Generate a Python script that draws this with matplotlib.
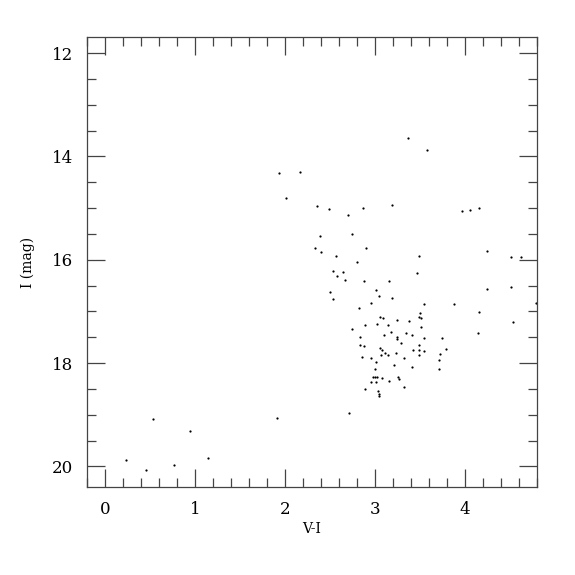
"""
Colour-magnitude diagram: I vs V-I.
"""

import matplotlib
matplotlib.use('Agg')
import matplotlib.pyplot as plt
from matplotlib.ticker import MultipleLocator

# V-I colour and I magnitude
vi = [3.37, 3.58, 1.93, 2.17, 2.01, 2.36, 2.49, 2.70, 2.87, 3.19,
      3.97, 4.06, 4.16, 2.39, 2.74, 2.33, 2.40, 2.90, 2.57, 3.49,
      4.25, 4.51, 4.62, 2.80, 2.53, 2.64, 2.58, 2.67, 3.47, 2.88,
      3.16, 4.24, 4.51, 3.01, 2.50, 3.04, 2.53, 3.19, 2.96, 3.54,
      3.88, 4.79, 2.82, 3.50, 4.16, 3.06, 3.09, 3.49, 3.51, 3.24,
      3.38, 4.53, 2.89, 3.02, 3.14, 3.51, 2.74, 3.18, 3.35, 4.14,
      3.10, 3.41, 3.24, 2.83, 3.24, 3.54, 3.75, 3.29, 3.49, 2.83,
      2.88, 3.06, 3.08, 3.79, 3.42, 3.49, 3.54, 3.23, 3.11, 3.14,
      3.07, 3.49, 3.72, 2.86, 2.96, 3.32, 3.71, 3.01, 3.21, 3.41,
      3.71, 3.00, 2.98, 3.00, 3.02, 3.08, 3.26, 3.27, 2.96, 3.01,
      3.16, 3.32, 2.89, 3.03, 3.04, 3.05, 2.71, 0.53, 0.94, 1.91,
      0.23, 0.46, 0.77, 1.14]
imag = [13.65, 13.87, 14.32, 14.30, 14.81, 14.97, 15.02, 15.14, 15.00, 14.94,
        15.05, 15.04, 14.99, 15.55, 15.50, 15.77, 15.86, 15.77, 15.92, 15.92,
        15.84, 15.94, 15.94, 16.05, 16.21, 16.24, 16.32, 16.39, 16.26, 16.41,
        16.41, 16.57, 16.52, 16.58, 16.62, 16.70, 16.76, 16.74, 16.83, 16.86,
        16.85, 16.83, 16.94, 17.04, 17.01, 17.10, 17.13, 17.11, 17.12, 17.17,
        17.19, 17.20, 17.26, 17.25, 17.26, 17.30, 17.35, 17.39, 17.41, 17.42,
        17.45, 17.45, 17.49, 17.50, 17.54, 17.52, 17.52, 17.62, 17.65, 17.66,
        17.67, 17.70, 17.74, 17.73, 17.75, 17.74, 17.77, 17.80, 17.81, 17.84,
        17.85, 17.84, 17.83, 17.89, 17.90, 17.91, 17.95, 17.98, 18.03, 18.08,
        18.11, 18.11, 18.28, 18.28, 18.28, 18.29, 18.28, 18.31, 18.36, 18.36,
        18.34, 18.47, 18.50, 18.55, 18.59, 18.63, 18.97, 19.08, 19.31, 19.07,
        19.88, 20.08, 19.98, 19.84]

plt.rcParams['font.family'] = ['DejaVu Serif']

fig = plt.figure(figsize=(5.75, 5.75), dpi=100)
ax = fig.add_axes([0.1513, 0.153, 0.7826, 0.7826])

ax.plot(vi, imag, 'o', color='black', ms=1.6, mew=0)

ax.set_xlim(-0.2, 4.8)
ax.set_ylim(20.4, 11.69)

ax.xaxis.set_major_locator(MultipleLocator(1))
ax.xaxis.set_minor_locator(MultipleLocator(0.2))
ax.yaxis.set_major_locator(MultipleLocator(2))
ax.yaxis.set_minor_locator(MultipleLocator(0.5))

ax.tick_params(which='both', direction='in', top=True, right=True,
               color='#444444', width=0.9)
ax.tick_params(which='major', length=13, labelsize=12, pad=10)
ax.tick_params(which='minor', length=6.5)
for s in ax.spines.values():
    s.set_color('#444444')
    s.set_linewidth(0.9)

ax.set_xlabel('V-I', fontsize=10, labelpad=3)
ax.set_ylabel('I (mag)', fontsize=10, labelpad=12)

fig.savefig('out.png', dpi=100)
